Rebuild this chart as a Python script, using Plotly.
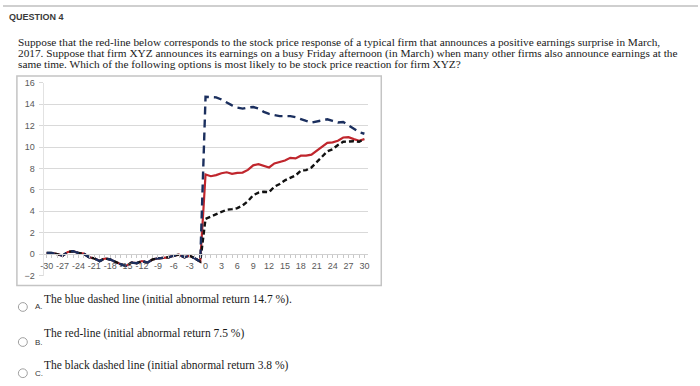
import plotly.graph_objects as go

# ---------------- data ----------------
days = list(range(-30, 31))
pre_event = [0.1, 0.1, 0.0, -0.15, 0.2, 0.27, 0.1, 0.05, -0.3, -0.4,
             -0.65, -0.4, -0.5, -0.75, -0.95, -1.1, -0.8, -0.85, -0.65, -0.8,
             -0.5, -0.4, -0.35, -0.3, -0.15, -0.05, -0.3, -0.15, -0.4, -0.7]
red_post = [7.45, 7.28, 7.38, 7.56, 7.65, 7.5, 7.6, 7.62, 7.87, 8.3,
            8.4, 8.28, 8.1, 8.47, 8.6, 8.75, 9.0, 8.95, 9.2, 9.2,
            9.3, 9.65, 10.0, 10.4, 10.45, 10.6, 10.9, 10.93, 10.75, 10.6, 10.75]
blue_post = [14.7, 14.7, 14.65, 14.45, 14.15, 13.9, 13.7, 13.6, 13.7, 13.75,
             13.6, 13.3, 13.1, 13.0, 12.9, 12.9, 12.9, 12.8, 12.6, 12.45,
             12.3, 12.4, 12.55, 12.6, 12.45, 12.3, 12.35, 12.05, 11.7, 11.4, 11.25]
black_post = [3.3, 3.5, 3.7, 3.9, 4.15, 4.2, 4.3, 4.55, 4.95, 5.5,
              5.75, 5.83, 5.8, 6.3, 6.55, 6.9, 7.1, 7.35, 7.8, 7.85,
              8.1, 8.6, 9.1, 9.6, 9.8, 10.2, 10.5, 10.55, 10.55, 10.5, 10.75]
x_tick_vals = list(range(-30, 31, 3))
x_tick_text = [str(v) for v in x_tick_vals]
y_tick_vals = list(range(-2, 17, 2))

title_text = "QUESTION 4"
question_lines = [
    "Suppose that the red-line below corresponds to the stock price response of a typical firm that announces a positive earnings surprise in March,",
    "2017. Suppose that firm XYZ announces its earnings on a busy Friday afternoon (in March) when many other firms also announce earnings at the",
    "same time. Which of the following options is most likely to be stock price reaction for firm XYZ?",
]
option_letters = ["A.", "B.", "C."]
option_texts = [
    "The blue dashed line (initial abnormal return 14.7 %).",
    "The red-line (initial abnormal return 7.5 %)",
    "The black dashed line (initial abnormal return 3.8 %)",
]

W, H = 700, 386


def px(x):
    return x / W


def py(y):
    return 1 - y / H


red = pre_event + red_post
blue = pre_event + blue_post
black = pre_event + black_post

fig = go.Figure()
fig.add_trace(go.Scatter(x=days, y=red, mode="lines",
                         line=dict(color="#c0262d", width=2.2), hoverinfo="skip"))
fig.add_trace(go.Scatter(x=days, y=black, mode="lines",
                         line=dict(color="#111111", width=2.4, dash="5px,3px"), hoverinfo="skip"))
fig.add_trace(go.Scatter(x=days, y=blue, mode="lines",
                         line=dict(color="#1b2f5e", width=2.4, dash="8px,5px"), hoverinfo="skip"))

# plot area geometry (pixels)
left, right = 40.8, 367.2
top_px, bot_px = 80.0, 277.7
zero_px = 255.7

fig.update_layout(
    width=W, height=H, autosize=False,
    margin=dict(l=0, r=0, t=0, b=0),
    paper_bgcolor="white", plot_bgcolor="white",
    showlegend=False,
    xaxis=dict(
        domain=[px(left), px(right)],
        range=[-30.6, 30.6],
        anchor="free", position=py(zero_px),
        showgrid=False, zeroline=False,
        showline=True, linecolor="#d0d0d0", linewidth=1,
        tickmode="array", tickvals=x_tick_vals, ticktext=x_tick_text,
        ticks="outside", ticklen=3, tickcolor="#c8c8c8",
        minor=dict(dtick=1, tick0=0, ticks="outside", ticklen=3, tickcolor="#c8c8c8"),
        tickfont=dict(family="Liberation Sans", size=9, color="#595959"),
        fixedrange=True,
    ),
    yaxis=dict(
        domain=[py(bot_px), py(top_px)],
        range=[-2, 16],
        tickmode="array", tickvals=y_tick_vals,
        showgrid=True, gridcolor="#d9d9d9", gridwidth=1,
        zeroline=False,
        showline=True, linecolor="#e2e2e2", linewidth=1,
        ticks="outside", ticklen=4, tickcolor="#d9d9d9",
        tickfont=dict(family="Liberation Sans", size=9, color="#595959"),
        ticklabelstandoff=2,
        fixedrange=True,
    ),
)

shapes = []
shapes.append(dict(type="line", xref="paper", yref="paper",
                   x0=0, x1=1, y0=py(1), y1=py(1),
                   line=dict(color="#cfcfcf", width=2)))
shapes.append(dict(type="rect", xref="paper", yref="paper",
                   x0=px(14), x1=px(381), y0=py(288), y1=py(73),
                   line=dict(color="#c4c4c4", width=1.5)))
annotations = []
annotations.append(dict(text="<b>" + title_text + "</b>", xref="paper", yref="paper",
                        x=px(4), y=py(12), xanchor="left", yanchor="middle",
                        showarrow=False,
                        font=dict(family="Liberation Sans", size=9, color="#3a3a3a")))
line_y = [38, 49.5, 61]
for txt, yy in zip(question_lines, line_y):
    annotations.append(dict(text=txt, xref="paper", yref="paper",
                            x=px(13), y=py(yy), xanchor="left", yanchor="middle",
                            showarrow=False,
                            font=dict(family="Liberation Serif", size=11.3, color="#1a1a1a")))

opt_text_y = [302, 337, 370]
opt_mark_y = [310, 346, 378]
for letter, txt, ty, my in zip(option_letters, option_texts, opt_text_y, opt_mark_y):
    r = 4.5
    shapes.append(dict(type="circle", xref="paper", yref="paper",
                       x0=px(20 - r), x1=px(20 + r), y0=py(my + r), y1=py(my - r),
                       line=dict(color="#a0a0a0", width=1), fillcolor="white"))
    annotations.append(dict(text=letter, xref="paper", yref="paper",
                            x=px(30), y=py(my), xanchor="left", yanchor="middle",
                            showarrow=False,
                            font=dict(family="Liberation Sans", size=8, color="#333333")))
    annotations.append(dict(text=txt, xref="paper", yref="paper",
                            x=px(39), y=py(ty), xanchor="left", yanchor="middle",
                            showarrow=False,
                            font=dict(family="Liberation Serif", size=11.5, color="#1a1a1a")))

fig.update_layout(shapes=shapes, annotations=annotations)
fig.write_html("out.html",
               config={"displayModeBar": False},
               post_script="document.body.style.margin='0';document.body.style.overflow='hidden';")
